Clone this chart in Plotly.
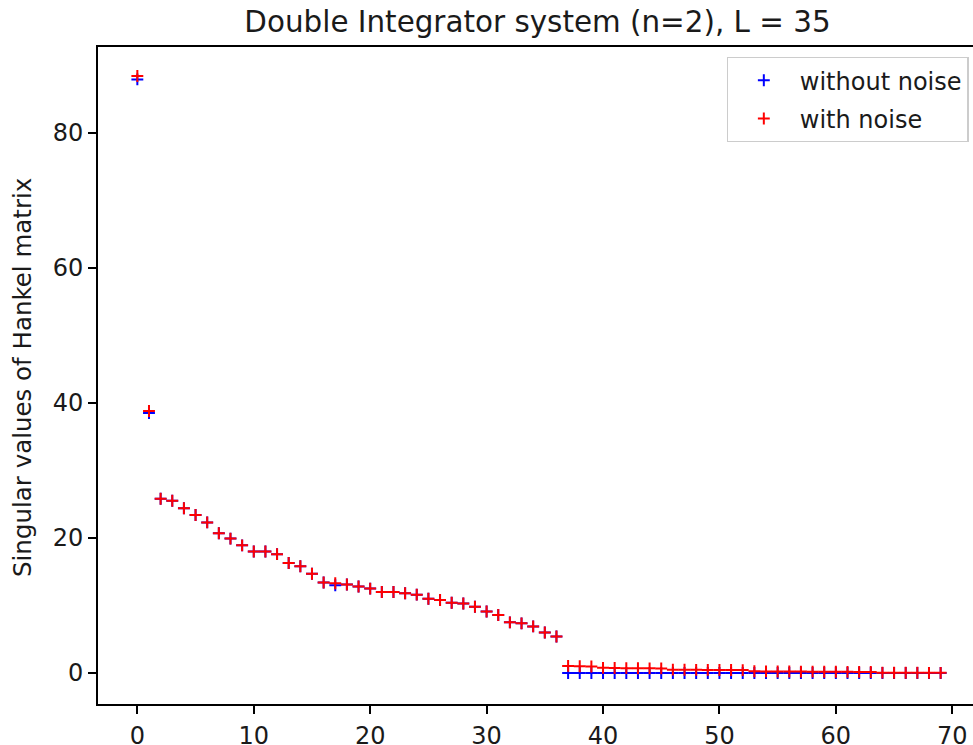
import plotly.graph_objects as go

# Index of singular value
index = list(range(70))

without_noise = [
    87.9, 38.5,
    25.8, 25.5, 24.4, 23.4, 22.3, 20.7, 19.9, 18.9, 18.0, 18.0,
    17.6, 16.3, 15.8, 14.7, 13.4, 13.0, 13.1, 12.8, 12.5, 12.0,
    12.0, 11.8, 11.6, 11.0, 10.8, 10.4, 10.3, 9.8, 9.1, 8.6,
    7.5, 7.35, 6.9, 6.0, 5.4,
    0.0, 0.0, 0.0, 0.0, 0.0, 0.0, 0.0, 0.0, 0.0, 0.0, 0.0,
    0.0, 0.0, 0.0, 0.0, 0.0, 0.0, 0.0, 0.0, 0.0, 0.0, 0.0,
    0.0, 0.0, 0.0, 0.0, 0.0, 0.0, 0.0, 0.0, 0.0, 0.0, 0.0,
]

with_noise = [
    88.4, 38.8,
    25.8, 25.5, 24.4, 23.4, 22.3, 20.7, 19.9, 18.9, 18.0, 18.0,
    17.6, 16.3, 15.8, 14.7, 13.4, 13.3, 13.1, 12.8, 12.5, 12.0,
    12.0, 11.8, 11.6, 11.0, 10.8, 10.4, 10.3, 9.8, 9.1, 8.6,
    7.5, 7.35, 6.9, 6.0, 5.4,
    1.05, 1.0, 0.97,
    0.76, 0.74, 0.72, 0.70, 0.69, 0.68,
    0.50, 0.48, 0.47, 0.46, 0.45, 0.44, 0.43,
    0.25, 0.24, 0.23, 0.22, 0.21, 0.20, 0.19, 0.18, 0.17, 0.16, 0.15,
    0.05, 0.04, 0.03, 0.03, 0.02, 0.02,
]

x_ticks = [0, 10, 20, 30, 40, 50, 60, 70]
y_ticks = [0, 20, 40, 60, 80]

FONT = "DejaVu Sans"
TXT = "#1a1a1a"

fig = go.Figure()
fig.add_trace(go.Scatter(
    x=index, y=without_noise, mode="markers", name="without noise",
    legendgroup="a",
    marker=dict(symbol="cross-thin", size=8.5, color="blue",
                line=dict(color="blue", width=2)),
))
fig.add_trace(go.Scatter(
    x=index, y=with_noise, mode="markers", name="with noise",
    legendgroup="b",
    marker=dict(symbol="cross-thin", size=8.5, color="red",
                line=dict(color="red", width=2)),
))

fig.update_layout(
    width=973, height=745,
    margin=dict(l=98, r=0, t=47, b=41, autoexpand=False),
    paper_bgcolor="white", plot_bgcolor="white",
    font=dict(family=FONT, size=24, color=TXT),
    title=dict(text="Double Integrator system (n=2), L = 35",
               x=537.5 / 973, xanchor="center", xref="container",
               y=1 - 22 / 745, yanchor="middle", yref="container",
               font=dict(family=FONT, size=29.4, color=TXT)),
    showlegend=True,
    legend=dict(x=0.995, xanchor="right", y=(704 - 57) / 657, yanchor="top",
                bordercolor="#cccccc", borderwidth=1.2, bgcolor="white",
                font=dict(family=FONT, size=24, color=TXT),
                itemwidth=62, tracegroupgap=4, traceorder="grouped"),
    xaxis=dict(range=[-3.38, 71.78], tickvals=x_ticks,
               showgrid=False, zeroline=False, automargin=False,
               showline=True, linecolor="black", linewidth=2, mirror=True,
               ticks="outside", ticklen=8, tickwidth=2, tickcolor="black",
               ticklabelstandoff=1,
               tickfont=dict(family=FONT, size=24, color=TXT)),
    yaxis=dict(range=[-4.59, 92.7], tickvals=y_ticks,
               showgrid=False, zeroline=False, automargin=False,
               showline=True, linecolor="black", linewidth=2,
               ticks="outside", ticklen=8, tickwidth=2, tickcolor="black",
               tickfont=dict(family=FONT, size=24, color=TXT)),
    annotations=[dict(text="Singular values of Hankel matrix",
                      xref="paper", yref="paper",
                      x=(22 - 98) / 875, y=(704 - 378) / 657,
                      xanchor="center", yanchor="middle",
                      textangle=-90, showarrow=False,
                      font=dict(family=FONT, size=24.5, color=TXT))],
)

fig.write_html("out.html",
               config={"displayModeBar": False},
               post_script="document.body.style.margin='0px';")
